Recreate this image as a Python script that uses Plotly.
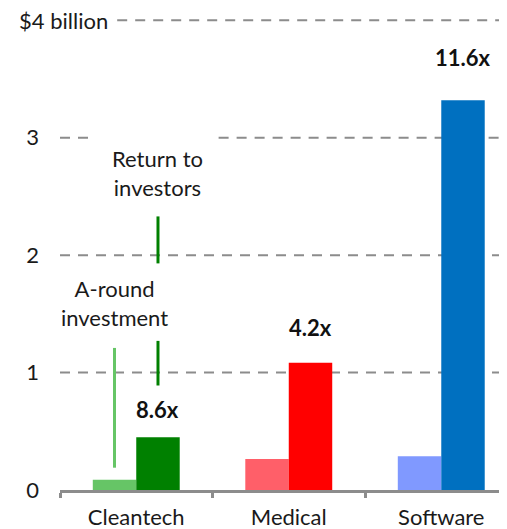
import plotly.graph_objects as go

categories = ["Cleantech", "Medical", "Software"]
a_round = [0.087, 0.265, 0.288]
returns = [0.45, 1.083, 3.32]
multiples = ["8.6x", "4.2x", "11.6x"]
light_colors = ["#66c566", "#ff5f69", "#8099ff"]
dark_colors = ["#008000", "#ff0000", "#0070c0"]
y_ticks = [0, 1, 2, 3]

FONT = "Lato"
FS = 22
GRID = "#8c8c8c"
BAR_W = 0.285

fig = go.Figure()
fig.add_trace(go.Bar(x=categories, y=a_round, marker_color=light_colors,
                     marker_line_width=0, name="A-round investment"))
fig.add_trace(go.Bar(x=categories, y=returns, marker_color=dark_colors,
                     marker_line_width=0, name="Return to investors"))

# dashed gridlines (drawn by hand so they can be broken around labels)
def hline(y, x0, x1):
    fig.add_shape(type="line", xref="x", yref="y", x0=x0, x1=x1, y0=y, y1=y,
                  line=dict(color=GRID, width=2, dash="10px,8px"), layer="below")

hline(1, -0.5, 2.5)
hline(2, -0.5, 2.5)
hline(3, -0.5, -0.29)
hline(3, 0.54, 2.5)
hline(4, -0.125, 2.5)

# leader lines for the labels
def vline(x, y0, y1, color):
    fig.add_shape(type="line", xref="x", yref="y", x0=x, x1=x, y0=y0, y1=y1,
                  line=dict(color=color, width=3))

vline(BAR_W / 2, 1.93, 2.33, dark_colors[0])
vline(BAR_W / 2, 0.89, 1.27, dark_colors[0])
vline(-BAR_W / 2, 0.19, 1.21, light_colors[0])

fig.add_annotation(xref="x", yref="y", x=BAR_W / 2, y=2.70, text="Return to<br>investors",
                   showarrow=False, font=dict(family=FONT, size=FS, color="#1a1a1a"))
fig.add_annotation(xref="x", yref="y", x=-BAR_W / 2, y=1.59, text="A-round<br>investment",
                   showarrow=False, font=dict(family=FONT, size=FS, color="#1a1a1a"))
fig.add_annotation(xref="paper", yref="y", x=0.112, xanchor="right", y=4,
                   text="&#36;4 billion", showarrow=False,
                   font=dict(family=FONT, size=FS, color="#1a1a1a"))

shifts = [12, 20, 27]
for cat_i, (val, lab) in enumerate(zip(returns, multiples)):
    fig.add_annotation(xref="x", yref="y", x=cat_i + BAR_W / 2, y=val, yanchor="bottom",
                       yshift=shifts[cat_i], text="<b>" + lab + "</b>", showarrow=False,
                       font=dict(family=FONT, size=FS, color="#111"))

# page body adds an 8px margin, so the figure is 8px smaller than the window
fig.update_layout(
    width=499, height=521,
    margin=dict(l=52, r=0, t=2, b=39),
    plot_bgcolor="white", paper_bgcolor="white",
    barmode="group", bargap=0.43, bargroupgap=0,
    showlegend=False,
    font=dict(family=FONT, size=FS, color="#1a1a1a"),
)
fig.update_xaxes(range=[-0.5, 2.431], showline=True, linecolor=GRID, linewidth=3,
                 ticks="outside", tickson="boundaries", ticklen=5, tickwidth=3,
                 tickcolor=GRID, showgrid=False, zeroline=False, ticklabelstandoff=6,
                 tickfont=dict(family=FONT, size=FS, color="#1a1a1a"))
fig.update_yaxes(range=[0, 4.088], tickvals=y_ticks, showgrid=False, zeroline=False,
                 showline=False, ticklabelstandoff=20,
                 tickfont=dict(family=FONT, size=FS, color="#1a1a1a"))

fig.write_html("out.html")
